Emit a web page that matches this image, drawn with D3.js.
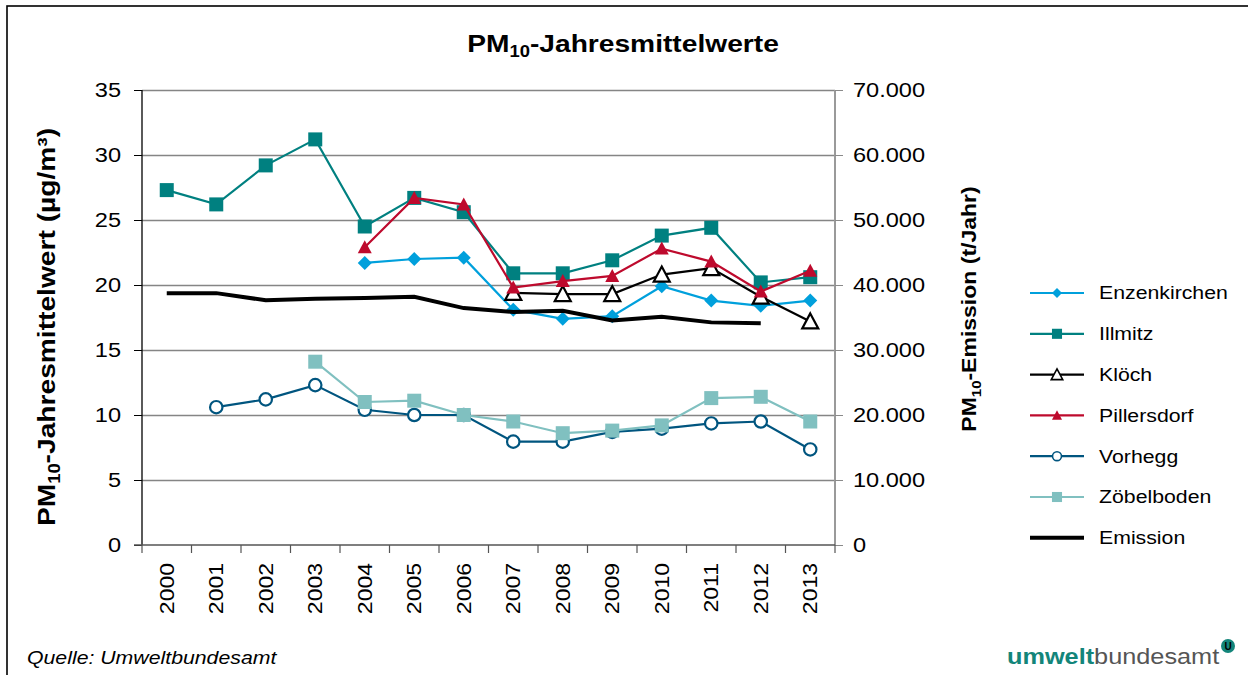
<!DOCTYPE html>
<html>
<head>
<meta charset="utf-8">
<script src="https://cdn.jsdelivr.net/npm/d3@7"></script>
<style>
  body { margin: 0; background: #fff; }
  text { font-family: "Liberation Sans", Arial, sans-serif; fill: #000; }
</style>
</head>
<body>
<div id="chart"></div>
<script>
// Chart data
const years = [2000, 2001, 2002, 2003, 2004, 2005, 2006, 2007, 2008, 2009, 2010, 2011, 2012, 2013];
const enzenkirchen = [null, null, null, null, 21.7, 22.0, 22.1, 18.1, 17.4, 17.6, 19.9, 18.8, 18.4, 18.8];
const illmitz = [27.3, 26.2, 29.2, 31.2, 24.5, 26.7, 25.6, 20.9, 20.9, 21.9, 23.8, 24.4, 20.2, 20.6];
const kloech = [null, null, null, null, null, null, null, 19.4, 19.3, 19.3, 20.8, 21.3, 19.1, 17.2];
const pillersdorf = [null, null, null, null, 22.9, 26.7, 26.2, 19.8, 20.3, 20.7, 22.8, 21.8, 19.5, 21.1];
const vorhegg = [null, 10.6, 11.2, 12.3, 10.4, 10.0, 10.0, 7.95, 7.95, 8.7, 8.95, 9.35, 9.5, 7.35];
const zoebelboden = [null, null, null, 14.1, 11.0, 11.1, 10.0, 9.5, 8.6, 8.8, 9.2, 11.3, 11.4, 9.5];
const emission = [38750, 38750, 37650, 37900, 38000, 38200, 36450, 35850, 36050, 34550, 35100, 34250, 34100, null];

const leftTicks = [0, 5, 10, 15, 20, 25, 30, 35];
const rightTicks = [0, 10000, 20000, 30000, 40000, 50000, 60000, 70000];

const series = [
  {name: "Enzenkirchen", values: enzenkirchen, color: "#00a0dc", marker: "diamond"},
  {name: "Illmitz", values: illmitz, color: "#008080", marker: "square"},
  {name: "Klöch", values: kloech, color: "#000000", marker: "triangleOpen"},
  {name: "Pillersdorf", values: pillersdorf, color: "#be0a2d", marker: "triangle"},
  {name: "Vorhegg", values: vorhegg, color: "#00557f", marker: "circleOpen"},
  {name: "Zöbelboden", values: zoebelboden, color: "#80c0c0", marker: "square"}
];

const W = 1248, H = 675;
const plot = {left: 142, right: 835, top: 90, bottom: 545};
const K = 1.15; // the reference font runs wider than Arial

// widen text along its own direction, keeping its anchor point
function stretch(sel) {
  sel.each(function () {
    const t = d3.select(this);
    const x = +t.attr("x") || 0, y = +t.attr("y") || 0;
    const tr = t.attr("transform") || "";
    t.attr("x", 0).attr("y", 0)
     .attr("transform", `${tr} translate(${x},${y}) scale(${K},1)`);
  });
}

const svg = d3.select("#chart").append("svg")
  .attr("width", W)
  .attr("height", H);

// outer frame
svg.append("rect")
  .attr("x", 7).attr("y", 6)
  .attr("width", W + 20).attr("height", H + 20)
  .attr("fill", "none")
  .attr("stroke", "#000")
  .attr("stroke-width", 1.6);

const x = d3.scaleBand().domain(years).range([plot.left, plot.right]).padding(0);
const yL = d3.scaleLinear().domain([0, 35]).range([plot.bottom, plot.top]);
const yR = d3.scaleLinear().domain([0, 70000]).range([plot.bottom, plot.top]);

const de = d3.formatLocale({decimal: ",", thousands: ".", grouping: [3], currency: ["", " €"]});
const fmtR = de.format(",.0f");

// gridlines
svg.append("g")
  .attr("transform", `translate(${plot.left},0)`)
  .call(d3.axisLeft(yL).tickValues(leftTicks.slice(1)).tickSize(-(plot.right - plot.left)).tickFormat(""))
  .call(g => g.select(".domain").remove())
  .call(g => g.selectAll("line").attr("stroke", "#858585").attr("stroke-width", 1.3));

// left axis
svg.append("g")
  .attr("transform", `translate(${plot.left},0)`)
  .call(d3.axisLeft(yL).tickValues(leftTicks).tickSize(8).tickPadding(13))
  .call(g => g.select(".domain").attr("stroke", "#000").attr("stroke-width", 1.3).attr("d", `M0,${plot.top}V${plot.bottom}`))
  .call(g => g.selectAll("line").attr("stroke", "#000"))
  .call(g => g.selectAll("text").attr("font-size", 20.5).attr("font-family", "Liberation Sans, Arial, sans-serif").attr("fill", "#000").call(stretch));

// right axis
svg.append("g")
  .attr("transform", `translate(${plot.right},0)`)
  .call(d3.axisRight(yR).tickValues(rightTicks).tickSize(8).tickPadding(10).tickFormat(fmtR))
  .call(g => g.select(".domain").attr("stroke", "#9a9a9a").attr("stroke-width", 2).attr("d", `M0,${plot.top}V${plot.bottom}`))
  .call(g => g.selectAll("line").attr("stroke", "#8a8a8a"))
  .call(g => g.selectAll("text").attr("font-size", 20.5).attr("font-family", "Liberation Sans, Arial, sans-serif").attr("fill", "#000").call(stretch));

// bottom axis
const xAxis = svg.append("g")
  .attr("transform", `translate(0,${plot.bottom})`)
  .call(d3.axisBottom(x).tickSize(0).tickPadding(0))
  .call(g => g.select(".domain").attr("stroke", "#555").attr("stroke-width", 1.3).attr("d", `M${plot.left - 8},0H${plot.right}`));
xAxis.selectAll(".tick text")
  .attr("font-size", 20)
  .attr("font-family", "Liberation Sans, Arial, sans-serif")
  .attr("fill", "#000")
  .attr("text-anchor", "end")
  .attr("y", 0)
  .attr("dy", "0.35em")
  .attr("transform", "translate(0,18) rotate(-90)")
  .call(stretch);
const boundaries = years.map(d => x(d)).concat([x(years[years.length - 1]) + x.bandwidth()]);
xAxis.selectAll(".btick").data(boundaries).enter().append("line")
  .attr("x1", d => d).attr("x2", d => d)
  .attr("y1", 0).attr("y2", 8)
  .attr("stroke", "#555").attr("stroke-width", 1.2);

const cx = d => x(d) + x.bandwidth() / 2;

function drawMarker(g, type, color) {
  if (type === "diamond") {
    g.append("path").attr("d", "M0,-7L7,0L0,7L-7,0Z").attr("fill", color);
  } else if (type === "square") {
    g.append("rect").attr("x", -7).attr("y", -7).attr("width", 14).attr("height", 14).attr("fill", color);
  } else if (type === "triangle") {
    g.append("path").attr("d", "M0,-7L7,6L-7,6Z").attr("fill", color);
  } else if (type === "triangleOpen") {
    g.append("path").attr("d", "M0,-8L8,7L-8,7Z").attr("fill", "#fff").attr("stroke", color).attr("stroke-width", 2.2);
  } else if (type === "circleOpen") {
    g.append("circle").attr("r", 6.2).attr("fill", "#fff").attr("stroke", color).attr("stroke-width", 2.2);
  }
}

const line = d3.line()
  .defined(d => d.v !== null)
  .x(d => cx(d.year))
  .y(d => yL(d.v));

series.forEach(s => {
  const pts = years.map((year, i) => ({year, v: s.values[i]}));
  svg.append("path")
    .datum(pts)
    .attr("d", line)
    .attr("fill", "none")
    .attr("stroke", s.color)
    .attr("stroke-width", 2.2);
  pts.filter(d => d.v !== null).forEach(d => {
    const g = svg.append("g").attr("transform", `translate(${cx(d.year)},${yL(d.v)})`);
    drawMarker(g, s.marker, s.color);
  });
});

// emission on the right axis
const emLine = d3.line()
  .defined(d => d.v !== null)
  .x(d => cx(d.year))
  .y(d => yR(d.v));
svg.append("path")
  .datum(years.map((year, i) => ({year, v: emission[i]})))
  .attr("d", emLine)
  .attr("fill", "none")
  .attr("stroke", "#000")
  .attr("stroke-width", 4);

// title
const title = svg.append("text")
  .attr("x", 623).attr("y", 52)
  .attr("text-anchor", "middle")
  .attr("font-size", 24.5).attr("font-weight", "bold");
title.append("tspan").text("PM");
title.append("tspan").attr("font-size", 16).attr("dy", 5).text("10");
title.append("tspan").attr("dy", -5).text("-Jahresmittelwerte");
title.call(stretch);

// left axis title
const lt = svg.append("text")
  .attr("transform", "translate(55,327) rotate(-90)")
  .attr("text-anchor", "middle")
  .attr("font-size", 24.5).attr("font-weight", "bold");
lt.append("tspan").text("PM");
lt.append("tspan").attr("font-size", 16).attr("dy", 5).text("10");
lt.append("tspan").attr("dy", -5).text("-Jahresmittelwert (µg/m³)");
lt.call(stretch);

// right axis title
const rt = svg.append("text")
  .attr("transform", "translate(976,309) rotate(-90)")
  .attr("text-anchor", "middle")
  .attr("font-size", 20).attr("font-weight", "bold");
rt.append("tspan").text("PM");
rt.append("tspan").attr("font-size", 13).attr("dy", 5).text("10");
rt.append("tspan").attr("dy", -5).text("-Emission (t/Jahr)");
rt.call(stretch);

// legend
const legendItems = series.concat([{name: "Emission", color: "#000", marker: null}]);
const legend = svg.append("g").attr("transform", "translate(1030,293)");
legendItems.forEach((s, i) => {
  const g = legend.append("g").attr("transform", `translate(0,${i * 40.8})`);
  g.append("line")
    .attr("x1", 0).attr("x2", 54)
    .attr("stroke", s.color)
    .attr("stroke-width", s.marker ? 2.2 : 4);
  if (s.marker) {
    const m = g.append("g").attr("transform", "translate(27,0) scale(0.72)");
    drawMarker(m, s.marker, s.color);
  }
  g.append("text")
    .attr("x", 69).attr("y", 0).attr("dy", "0.35em")
    .attr("font-size", 18.5)
    .text(s.name)
    .call(stretch);
});

// source
svg.append("text")
  .attr("x", 27).attr("y", 664)
  .attr("font-size", 18.5).attr("font-style", "italic")
  .text("Quelle: Umweltbundesamt")
  .call(stretch);

// logo
const logo = svg.append("text")
  .attr("x", 1007).attr("y", 664)
  .attr("font-size", 22)
  .attr("font-family", "DejaVu Sans, sans-serif");
logo.append("tspan").attr("font-weight", "bold").attr("fill", "#13857a").text("umwelt");
logo.append("tspan").attr("fill", "#555").text("bundesamt");
logo.call(stretch);
svg.append("circle").attr("cx", 1228).attr("cy", 646).attr("r", 7).attr("fill", "#13857a");
svg.append("text").attr("x", 1228).attr("y", 650).attr("text-anchor", "middle")
  .attr("font-size", 10).attr("font-weight", "bold").attr("fill", "#fff").text("U");
</script>
</body>
</html>
